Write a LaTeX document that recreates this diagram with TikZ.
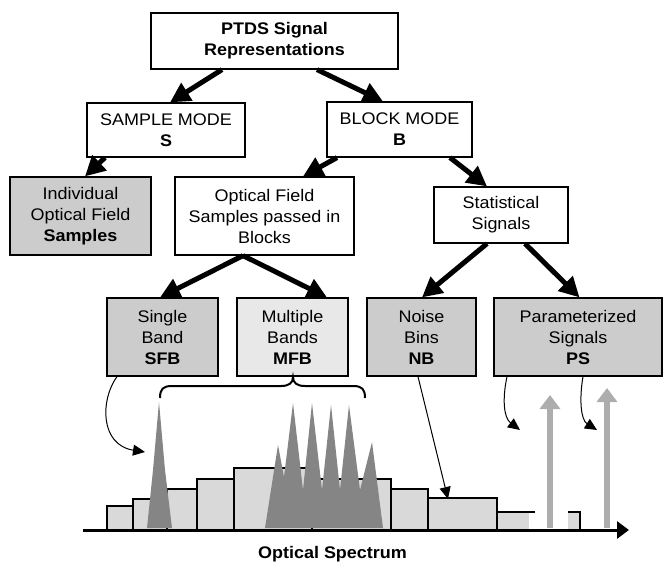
\documentclass[tikz,border=0pt]{standalone}
\usepackage{fontspec}
\setmainfont{Liberation Sans}[FakeStretch=1.07]
\usetikzlibrary{arrows.meta,calc}
\definecolor{boxgray}{gray}{0.80}
\definecolor{mfbgray}{gray}{0.91}
\definecolor{bargray}{gray}{0.85}
\definecolor{peakgray}{gray}{0.52}
\definecolor{arrowgray}{gray}{0.68}
\begin{document}
\begin{tikzpicture}[x=1pt,y=-1pt,
  box/.style={draw, line width=1.2pt, rectangle, inner sep=0pt, align=center,
    font=\fontsize{16.8}{21}\selectfont},
  shadedbox/.style={box, fill=boxgray},
  bigarrow/.style={line width=5pt, -{Triangle[length=20pt,width=20pt]}},
  thinarrow/.style={line width=1pt, -{Triangle[length=12pt,width=11pt]}},
  bar/.style={draw, line width=1.6pt, fill=bargray},
  peak/.style={fill=peakgray},
  grayarrow/.style={draw=arrowgray, line width=6.5pt, -{Triangle[length=14pt,width=20pt]}}]
\useasboundingbox (0,0) rectangle (665,562);

% boxes
\node[box, minimum width=247pt, minimum height=56pt] (top) at (274.5,41) {\bfseries PTDS Signal\\\bfseries Representations};
\node[box, minimum width=158pt, minimum height=54pt] (sample) at (166,130) {SAMPLE MODE\\\textbf{S}};
\node[box, minimum width=145pt, minimum height=55pt] (block) at (399.5,129.5) {BLOCK MODE\\\textbf{B}};
\node[shadedbox, minimum width=141pt, minimum height=78pt] (indiv) at (80.5,216) {Individual\\Optical Field\\\textbf{Samples}};
\node[box, minimum width=179pt, minimum height=78pt] (optical) at (264.5,216) {Optical Field\\Samples passed in\\Blocks};
\node[box, minimum width=134pt, minimum height=56pt] (stat) at (501,215) {Statistical\\Signals};
\node[shadedbox, minimum width=111pt, minimum height=78pt] (sfb) at (162.5,337) {Single\\Band\\\textbf{SFB}};
\node[box, fill=mfbgray, minimum width=111pt, minimum height=78pt] (mfb) at (292.5,337) {Multiple\\Bands\\\textbf{MFB}};
\node[shadedbox, minimum width=109pt, minimum height=78pt] (nb) at (421.5,337) {Noise\\Bins\\\textbf{NB}};
\node[shadedbox, minimum width=168pt, minimum height=78pt] (ps) at (578,337) {Parameterized\\Signals\\\textbf{PS}};

% thick tree arrows
\draw[bigarrow] ([xshift=-52.5pt]top.south) -- ([xshift=4pt]sample.north);
\draw[bigarrow] ([xshift=42.5pt]top.south) -- ([xshift=-16.5pt]block.north);
\draw[bigarrow] ([xshift=-61pt]sample.south) -- ([xshift=4.5pt]indiv.north);
\draw[bigarrow] ([xshift=-62.5pt]block.south) -- ([xshift=38.5pt]optical.north);
\draw[bigarrow] ([xshift=50.5pt]block.south) -- ([xshift=-14pt]stat.north);
\draw[bigarrow] ([xshift=-21.5pt]optical.south) -- ([xshift=-2.5pt]sfb.north);
\draw[bigarrow] ([xshift=-21.5pt]optical.south) -- ([xshift=34.5pt]mfb.north);
\draw[bigarrow] ([xshift=-14pt]stat.south) -- ([xshift=0.5pt]nb.north);
\draw[bigarrow] ([xshift=24pt]stat.south) -- ([xshift=1.5pt]ps.north);

% spectrum bars
\draw[bar] (107,530) rectangle (133,506);
\draw[bar] (133,530) rectangle (167,499);
\draw[bar] (167,530) rectangle (197,489);
\draw[bar] (197,530) rectangle (234,479);
\draw[bar] (234,530) rectangle (312,468);
\draw[bar] (312,530) rectangle (391,479);
\draw[bar] (391,530) rectangle (428,489);
\draw[bar] (428,530) rectangle (497,498);
\fill[bargray] (497,530) rectangle (529,512);
\draw[line width=1.6pt] (497,530) -- (497,512) -- (535,512);
\fill[bargray] (568,530) rectangle (580,512);
\draw[line width=1.6pt] (568,512) -- (580,512) -- (580,530);

% peaks
\fill[peak] (147,528) -- (153,470) -- (159,402) -- (165,470) -- (172,528) -- cycle;
\fill[peak] (265,528) -- (278,445) -- (284,477) -- (293,403) -- (303,490) -- (312,403)
  -- (322,490) -- (331,405) -- (340,490) -- (349,405) -- (360,490) -- (372,442) -- (383,528) -- cycle;

% gray arrows (parameterized signals)
\coordinate (g1b) at (550,528);
\coordinate (g1t) at (550,395);
\coordinate (g2b) at (607,528);
\coordinate (g2t) at (607,388);
\draw[grayarrow] (g1b) -- (g1t);
\draw[grayarrow] (g2b) -- (g2t);

% axis
\coordinate (ax0) at (83,530);
\coordinate (ax1) at (629,530);
\draw[line width=3pt, -{Triangle[length=12pt,width=17pt]}] (ax0) -- (ax1);
\node[font=\bfseries\fontsize{16.8}{21}\selectfont] (spec) at (332.5,554) {Optical Spectrum};

% brace over MFB peaks
\draw[line width=2pt] (160,398) .. controls (160,389) and (163,386) .. (172,386) -- (281,386)
  .. controls (289,386) and (293,383) .. (293,377)
  .. controls (293,383) and (297,386) .. (305,386) -- (353,386)
  .. controls (362,386) and (365,389) .. (365,398);

% thin arrows
\coordinate (sfbtip) at (145,452);
\coordinate (nbtip) at (448,499);
\coordinate (ps1tip) at (520,430);
\coordinate (ps2tip) at (597,430);
\draw[thinarrow] ([xshift=-45.5pt]sfb.south) .. controls (100,400) and (100,445) .. (sfbtip);
\draw[thinarrow] ([xshift=-3.5pt]nb.south) -- (nbtip);
\draw[thinarrow] ([xshift=-71pt]ps.south) .. controls (502,400) and (504,418) .. (ps1tip);
\draw[thinarrow] ([xshift=5pt]ps.south) .. controls (579,400) and (581,420) .. (ps2tip);
\end{tikzpicture}
\end{document}
